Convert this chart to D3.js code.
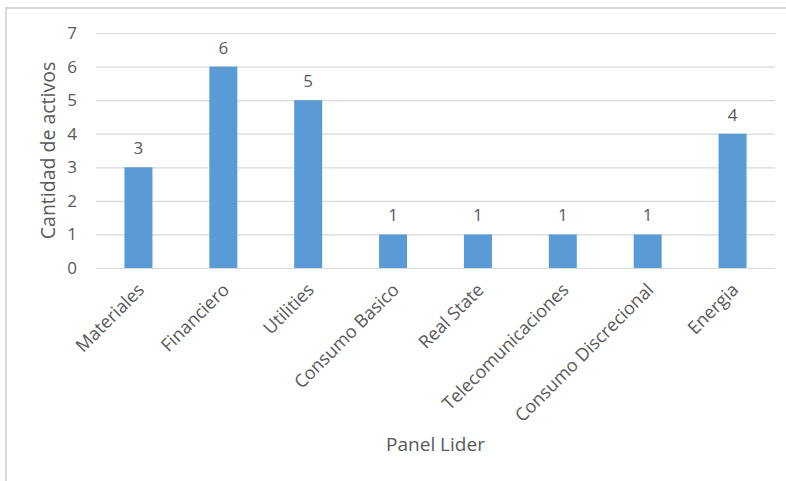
<!DOCTYPE html>
<html>
<head>
<meta charset="utf-8">
<script src="https://cdn.jsdelivr.net/npm/d3@7"></script>
<style>
  html, body { margin: 0; padding: 0; background: #fff; }
  svg { display: block; }
  text { font-family: "Open Sans", "Noto Sans", sans-serif; fill: #595959; }
</style>
</head>
<body>
<svg id="chart" width="786" height="481"></svg>
<script>
// Sectors of the Panel Líder and their number of assets
const categories = ["Materiales", "Financiero", "Utilities", "Consumo Basico", "Real State",
  "Telecomunicaciones", "Consumo Discrecional", "Energia"];
const values = [3, 6, 5, 1, 1, 1, 1, 4];
const yTicks = [0, 1, 2, 3, 4, 5, 6, 7];
const xTitle = "Panel Lider";
const yTitle = "Cantidad de activos";

const svg = d3.select("#chart");
const W = 786, H = 481;
const plot = { left: 96, right: 775, top: 33, bottom: 268 };

// Chart frame
svg.append("rect")
  .attr("x", 6).attr("y", 8)
  .attr("width", W + 10).attr("height", H + 10)
  .attr("fill", "#fff")
  .attr("stroke", "#d9d9d9").attr("stroke-width", 2);

const x = d3.scaleBand()
  .domain(categories)
  .range([plot.left, plot.right])
  .paddingInner(0.67).paddingOuter(0.335);

const y = d3.scaleLinear()
  .domain([0, 7])
  .range([plot.bottom, plot.top]);

// Gridlines and y tick labels
const yAxis = d3.axisLeft(y)
  .tickValues(yTicks)
  .tickSize(-(plot.right - plot.left))
  .tickPadding(19)
  .tickFormat(d3.format("d"));

const gy = svg.append("g")
  .attr("transform", `translate(${plot.left},0)`)
  .call(yAxis);
gy.select(".domain").remove();
gy.selectAll(".tick line").attr("stroke", "#d9d9d9").attr("stroke-width", 1.2);
gy.selectAll(".tick text")
  .attr("fill", "#595959")
  .style("font-size", "17px");

// Bars
svg.append("g").selectAll("rect")
  .data(values)
  .join("rect")
  .attr("x", (d, i) => x(categories[i]))
  .attr("y", d => y(d))
  .attr("width", x.bandwidth())
  .attr("height", d => y(0) - y(d))
  .attr("fill", "#5b9bd5");

// Value labels
svg.append("g").selectAll("text")
  .data(values)
  .join("text")
  .attr("x", (d, i) => x(categories[i]) + x.bandwidth() / 2)
  .attr("y", d => y(d) - 13)
  .attr("text-anchor", "middle")
  .style("font-size", "17px")
  .text(d => d);

// Category axis (rotated labels)
const xAxis = d3.axisBottom(x).tickSize(0).tickPadding(0);
const gx = svg.append("g")
  .attr("transform", `translate(0,${plot.bottom})`)
  .call(xAxis);
gx.select(".domain").remove();
gx.selectAll(".tick text")
  .attr("fill", "#595959")
  .style("font-size", "18px")
  .attr("text-anchor", "end")
  .attr("dy", null)
  .attr("y", 0)
  .attr("transform", "translate(7,23) rotate(-45)");

// Axis titles
svg.append("text")
  .attr("x", (plot.left + plot.right) / 2)
  .attr("y", 451)
  .attr("text-anchor", "middle")
  .style("font-size", "19px")
  .text(xTitle);

svg.append("text")
  .attr("transform", `translate(55,${(plot.top + plot.bottom) / 2}) rotate(-90)`)
  .attr("text-anchor", "middle")
  .style("font-size", "19.5px")
  .text(yTitle);
</script>
</body>
</html>
